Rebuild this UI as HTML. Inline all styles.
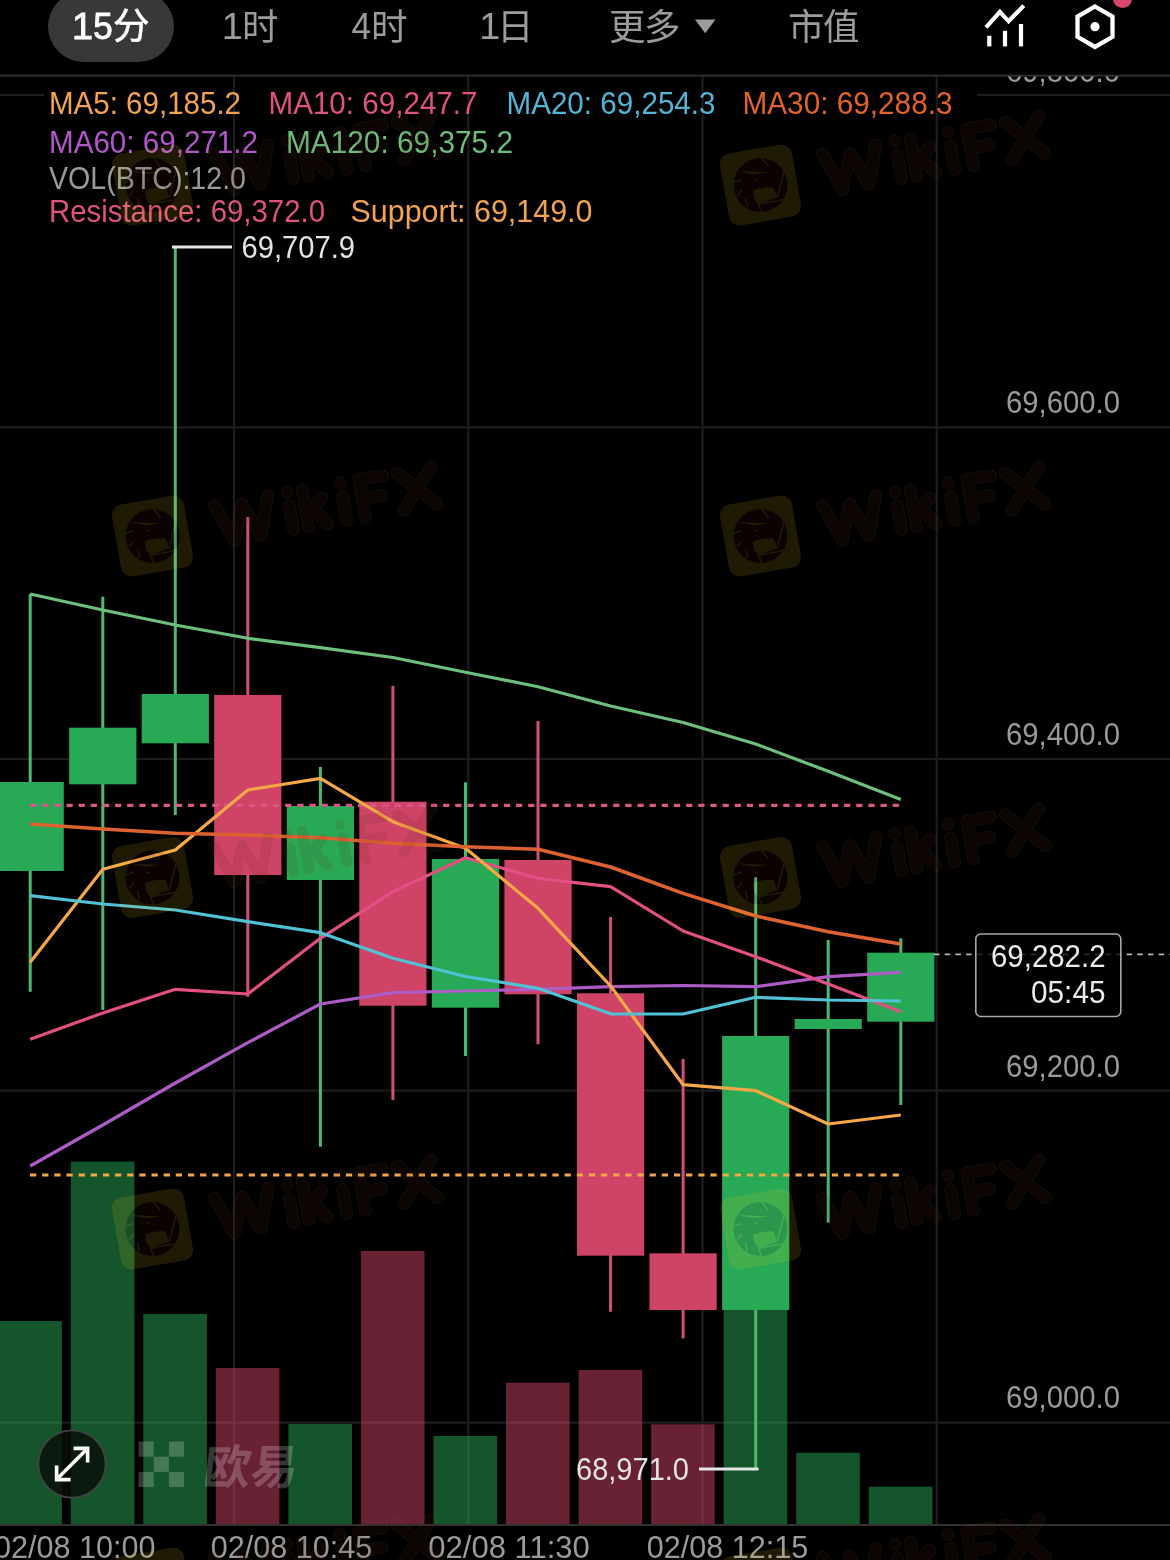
<!DOCTYPE html>
<html lang="zh"><head><meta charset="utf-8"><title>BTC 15m chart</title>
<style>
html,body{margin:0;padding:0;background:#000;}
body{width:1170px;height:1560px;overflow:hidden;position:relative;font-family:"Liberation Sans","Noto Sans CJK SC",sans-serif;}
svg{position:absolute;left:0;top:0;display:block;will-change:transform}
text{font-family:"Liberation Sans","Noto Sans CJK SC",sans-serif;}
</style></head><body>

<svg width="1170" height="1560" viewBox="0 0 1170 1560">
<defs>
<clipPath id="chartclip"><rect x="0" y="76" width="1170" height="1484"/></clipPath>
<g id="wm">
  <g transform="rotate(-10)">
    <rect x="-36.5" y="-36.5" width="73" height="73" rx="11" fill="#ffd422"/>
    <g transform="translate(61 0)" fill="none" stroke-linecap="round" stroke-linejoin="round">
      <path d="M5.5,-19.5 L19,18.5 L32.5,-16 L46,18.5 L59.5,-19.5 M79,18.5 L79,-6 M79,-20 L79,-19.9 M94.5,18.5 L94.5,-19.5 M112.5,-8 L96,6 M102,2 L113.5,18.5 M133,18.5 L133,-6 M133,-20 L133,-19.9 M152,18.5 L152,-19.5 L176,-19.5 M152,0 L172,0 M191,-19.5 L225,18.5 M225,-19.5 L191,18.5" stroke="#b88240" stroke-width="12.6"/>
      <path d="M5.5,-19.5 L19,18.5 L32.5,-16 L46,18.5 L59.5,-19.5 M79,18.5 L79,-6 M79,-20 L79,-19.9 M94.5,18.5 L94.5,-19.5 M112.5,-8 L96,6 M102,2 L113.5,18.5 M133,18.5 L133,-6 M133,-20 L133,-19.9 M152,18.5 L152,-19.5 L176,-19.5 M152,0 L172,0 M191,-19.5 L225,18.5 M225,-19.5 L191,18.5" stroke="#642a19" stroke-width="11"/>
    </g>
  </g>
  <circle cx="0" cy="0" r="27" fill="#531911"/>
  <path d="M-7 5.5 C-3 3.5 4 2 12 2.3 C14 4 15 7 16.5 12.4 L-2 19 C-6.5 15 -8 10 -7 5.5Z" fill="#ffd422"/>
  <g stroke="#ffd422" stroke-width="1.5" fill="none" stroke-linecap="round">
    <line x1="1.3" y1="-26.5" x2="7.5" y2="-19"/>
    <line x1="23.5" y1="-13.5" x2="16.8" y2="12"/>
    <line x1="23.5" y1="14.5" x2="-2" y2="19.2"/>
    <line x1="-2" y1="19.2" x2="1" y2="26.5"/>
    <line x1="-26" y1="-3" x2="-19.5" y2="-5"/>
    <line x1="-23" y1="10.5" x2="-19" y2="5.5"/>
    <line x1="-13" y1="21.5" x2="-15" y2="14"/>
  </g>
  <path d="M-23 -14.2 L9 -12.6 L-8 -10.8Z" fill="#ffd422"/>
  <path d="M-6.5 -6.2 L-2 -5.2 L-4.5 -4.2Z" fill="#ffe9a8"/>
</g>
</defs>
<rect width="1170" height="1560" fill="#000"/>

<g clip-path="url(#chartclip)">
<g stroke="#1d1d1d" stroke-width="2.2" fill="none">
<line x1="234" y1="76" x2="234" y2="1525"/>
<line x1="468.3" y1="76" x2="468.3" y2="1525"/>
<line x1="702.5" y1="76" x2="702.5" y2="1525"/>
<line x1="936.7" y1="76" x2="936.7" y2="1525"/>
<line x1="0" y1="427.3" x2="1170" y2="427.3"/>
<line x1="0" y1="759" x2="1170" y2="759"/>
<line x1="0" y1="1090.7" x2="1170" y2="1090.7"/>
<line x1="0" y1="1422.7" x2="1170" y2="1422.7"/>
<line x1="0" y1="95" x2="44" y2="95"/><line x1="977" y1="95" x2="1170" y2="95"/>
</g>
<rect x="0.0" y="1321.0" width="61.8" height="203.5" fill="#27a955" fill-opacity="0.5"/>
<rect x="70.8" y="1161.7" width="63.6" height="362.8" fill="#27a955" fill-opacity="0.5"/>
<rect x="143.3" y="1314.0" width="63.6" height="210.5" fill="#27a955" fill-opacity="0.5"/>
<rect x="215.8" y="1368.0" width="63.6" height="156.5" fill="#cf4367" fill-opacity="0.5"/>
<rect x="288.4" y="1424.0" width="63.6" height="100.5" fill="#27a955" fill-opacity="0.5"/>
<rect x="360.9" y="1251.0" width="63.6" height="273.5" fill="#cf4367" fill-opacity="0.5"/>
<rect x="433.5" y="1436.0" width="63.6" height="88.5" fill="#27a955" fill-opacity="0.5"/>
<rect x="506.0" y="1382.7" width="63.6" height="141.8" fill="#cf4367" fill-opacity="0.5"/>
<rect x="578.6" y="1370.0" width="63.6" height="154.5" fill="#cf4367" fill-opacity="0.5"/>
<rect x="651.1" y="1424.3" width="63.6" height="100.2" fill="#cf4367" fill-opacity="0.5"/>
<rect x="723.7" y="1300.0" width="63.6" height="224.5" fill="#27a955" fill-opacity="0.5"/>
<rect x="796.2" y="1452.7" width="63.6" height="71.8" fill="#27a955" fill-opacity="0.5"/>
<rect x="868.8" y="1486.7" width="63.6" height="37.8" fill="#27a955" fill-opacity="0.5"/>
<line x1="30.2" y1="594" x2="30.2" y2="991.7" stroke="#4db86e" stroke-width="3"/>
<rect x="0.0" y="782" width="63.8" height="89.0" fill="#27a955"/>
<line x1="102.8" y1="596.7" x2="102.8" y2="1010" stroke="#4db86e" stroke-width="3"/>
<rect x="69.2" y="727.7" width="67.2" height="56.6" fill="#27a955"/>
<line x1="175.3" y1="247" x2="175.3" y2="815" stroke="#4db86e" stroke-width="3"/>
<rect x="141.7" y="694" width="67.2" height="49.3" fill="#27a955"/>
<line x1="247.8" y1="517" x2="247.8" y2="996.7" stroke="#cc527b" stroke-width="3"/>
<rect x="214.2" y="695" width="67.2" height="180.0" fill="#cf4367"/>
<line x1="320.4" y1="767" x2="320.4" y2="1146.7" stroke="#4db86e" stroke-width="3"/>
<rect x="286.8" y="806" width="67.2" height="74.0" fill="#27a955"/>
<line x1="392.9" y1="685.7" x2="392.9" y2="1100" stroke="#cc527b" stroke-width="3"/>
<rect x="359.3" y="801.7" width="67.2" height="204.0" fill="#cf4367"/>
<line x1="465.5" y1="782.3" x2="465.5" y2="1056" stroke="#4db86e" stroke-width="3"/>
<rect x="431.9" y="859" width="67.2" height="148.7" fill="#27a955"/>
<line x1="538.0" y1="721" x2="538.0" y2="1044.3" stroke="#cc527b" stroke-width="3"/>
<rect x="504.4" y="860" width="67.2" height="134.3" fill="#cf4367"/>
<line x1="610.6" y1="917" x2="610.6" y2="1311.7" stroke="#cc527b" stroke-width="3"/>
<rect x="577.0" y="993.3" width="67.2" height="262.4" fill="#cf4367"/>
<line x1="683.1" y1="1059" x2="683.1" y2="1338.5" stroke="#cc527b" stroke-width="3"/>
<rect x="649.5" y="1253.3" width="67.2" height="56.7" fill="#cf4367"/>
<line x1="755.7" y1="877.3" x2="755.7" y2="1469" stroke="#4db86e" stroke-width="3"/>
<rect x="722.1" y="1036" width="67.2" height="274.0" fill="#27a955"/>
<line x1="828.2" y1="940" x2="828.2" y2="1222.5" stroke="#4db86e" stroke-width="3"/>
<rect x="794.6" y="1019" width="67.2" height="10.0" fill="#27a955"/>
<line x1="900.8" y1="938.3" x2="900.8" y2="1105" stroke="#4db86e" stroke-width="3"/>
<rect x="867.2" y="952.7" width="67.2" height="69.0" fill="#27a955"/>
<line x1="30" y1="805.3" x2="900.8" y2="805.3" stroke="#d9568a" stroke-width="3.2" stroke-dasharray="6.25 5.9"/>
<line x1="30" y1="1175" x2="900.8" y2="1175" stroke="#f3a64a" stroke-width="3.2" stroke-dasharray="6.25 5.9"/>
<polyline points="30.2,594 102.8,610 175.3,625 247.8,638.3 320.4,647.7 392.9,657.5 465.5,672.3 538.0,686.7 610.6,706 683.1,722.5 755.7,744 828.2,771.3 900.8,799.5" fill="none" stroke="#6cc07c" stroke-width="3.2" stroke-linejoin="round"/>
<polyline points="30.2,1166 102.8,1125 175.3,1083 247.8,1042.7 320.4,1004 392.9,992.7 465.5,991 538.0,989.3 610.6,986.7 683.1,985.5 755.7,986.7 828.2,976.7 900.8,972.3" fill="none" stroke="#ad5cc6" stroke-width="3.2" stroke-linejoin="round"/>
<polyline points="30.2,1039.3 102.8,1013 175.3,989.3 247.8,994 320.4,938.3 392.9,891.7 465.5,857.7 538.0,878.3 610.6,886.7 683.1,931 755.7,956.7 828.2,984 900.8,1011.7" fill="none" stroke="#e24f84" stroke-width="3.2" stroke-linejoin="round"/>
<polyline points="30.2,962.3 102.8,869.3 175.3,850 247.8,790 320.4,778.3 392.9,821.7 465.5,848.3 538.0,908.3 610.6,986 683.1,1084.7 755.7,1090.7 828.2,1124 900.8,1115" fill="none" stroke="#f6a846" stroke-width="3.2" stroke-linejoin="round"/>
<polyline points="30.2,895.7 102.8,904 175.3,910 247.8,921.7 320.4,932.7 392.9,958.3 465.5,976.5 538.0,988.3 610.6,1013.8 683.1,1014 755.7,997.3 828.2,1000 900.8,1001" fill="none" stroke="#50c2d6" stroke-width="3.2" stroke-linejoin="round"/>
<polyline points="30.2,824 102.8,829 175.3,833.3 247.8,835 320.4,837.7 392.9,843.3 465.5,846.7 538.0,849.3 610.6,867 683.1,893.3 755.7,916 828.2,931.7 900.8,944" fill="none" stroke="#de6230" stroke-width="3.5" stroke-linejoin="round"/>
<line x1="172" y1="247" x2="232" y2="247" stroke="#e6e6e6" stroke-width="3"/>
<line x1="699" y1="1469" x2="758.5" y2="1469" stroke="#e6e6e6" stroke-width="3"/>
<text x="241.5" y="258" font-size="31" fill="#e4e4e4" textLength="113.5" lengthAdjust="spacingAndGlyphs">69,707.9</text>
<text x="576" y="1479.5" font-size="31" fill="#e4e4e4" textLength="113" lengthAdjust="spacingAndGlyphs">68,971.0</text>
<line x1="934" y1="954.3" x2="1170" y2="954.3" stroke="#b8b8b8" stroke-width="1.8" stroke-dasharray="5.5 5.2"/>
<rect x="975.8" y="934" width="145" height="82.5" rx="5" fill="#000" stroke="#a8a8a8" stroke-width="1.6"/>
<line x1="976.6" y1="954.3" x2="1120" y2="954.3" stroke="#b8b8b8" stroke-opacity="0.22" stroke-width="1.8" stroke-dasharray="5.5 5.2" stroke-dashoffset="-0.6"/>
<text x="991" y="966.7" font-size="31" fill="#ececec" textLength="114.5" lengthAdjust="spacingAndGlyphs">69,282.2</text>
<text x="1031" y="1003" font-size="31" fill="#ececec" textLength="74.5" lengthAdjust="spacingAndGlyphs">05:45</text>
<text x="1006" y="82" font-size="31" fill="#9b9b9b" textLength="114" lengthAdjust="spacingAndGlyphs">69,800.0</text>
<text x="1006" y="413" font-size="31" fill="#9b9b9b" textLength="114" lengthAdjust="spacingAndGlyphs">69,600.0</text>
<text x="1006" y="744.5" font-size="31" fill="#9b9b9b" textLength="114" lengthAdjust="spacingAndGlyphs">69,400.0</text>
<text x="1006" y="1076.5" font-size="31" fill="#9b9b9b" textLength="114" lengthAdjust="spacingAndGlyphs">69,200.0</text>
<text x="1006" y="1408" font-size="31" fill="#9b9b9b" textLength="114" lengthAdjust="spacingAndGlyphs">69,000.0</text>
<text x="49" y="114.1" font-size="31.5" fill="#f2a354" textLength="192" lengthAdjust="spacingAndGlyphs">MA5: 69,185.2</text>
<text x="268.5" y="114.1" font-size="31.5" fill="#e0527f" textLength="209" lengthAdjust="spacingAndGlyphs">MA10: 69,247.7</text>
<text x="506.5" y="114.1" font-size="31.5" fill="#52b4d6" textLength="209" lengthAdjust="spacingAndGlyphs">MA20: 69,254.3</text>
<text x="742.5" y="114.1" font-size="31.5" fill="#e2622b" textLength="210" lengthAdjust="spacingAndGlyphs">MA30: 69,288.3</text>
<text x="49" y="152.7" font-size="31.5" fill="#b058c8" textLength="209" lengthAdjust="spacingAndGlyphs">MA60: 69,271.2</text>
<text x="286" y="152.7" font-size="31.5" fill="#6cc07c" textLength="227" lengthAdjust="spacingAndGlyphs">MA120: 69,375.2</text>
<text x="49" y="188.8" font-size="31.5" fill="#9a9a9a" textLength="197" lengthAdjust="spacingAndGlyphs">VOL(BTC):12.0</text>
<text x="49" y="222.3" font-size="31.5" fill="#e0527f" textLength="276" lengthAdjust="spacingAndGlyphs">Resistance: 69,372.0</text>
<text x="350.5" y="222.3" font-size="31.5" fill="#f2a354" textLength="242" lengthAdjust="spacingAndGlyphs">Support: 69,149.0</text>
<line x1="0" y1="1525" x2="1170" y2="1525" stroke="#303030" stroke-width="2"/>
<text x="-6" y="1558.3" font-size="31" fill="#9b9b9b" textLength="161.5" lengthAdjust="spacingAndGlyphs">02/08 10:00</text>
<text x="210.7" y="1558.3" font-size="31" fill="#9b9b9b" textLength="161.5" lengthAdjust="spacingAndGlyphs">02/08 10:45</text>
<text x="428.3" y="1558.3" font-size="31" fill="#9b9b9b" textLength="161.5" lengthAdjust="spacingAndGlyphs">02/08 11:30</text>
<text x="646.7" y="1558.3" font-size="31" fill="#9b9b9b" textLength="161.5" lengthAdjust="spacingAndGlyphs">02/08 12:15</text>
<rect x="138.5" y="1441.5" width="15.2" height="15.2" fill="rgba(255,255,255,0.21)"/>
<rect x="168.9" y="1441.5" width="15.2" height="15.2" fill="rgba(255,255,255,0.21)"/>
<rect x="153.7" y="1456.7" width="15.2" height="15.2" fill="rgba(255,255,255,0.21)"/>
<rect x="138.5" y="1471.9" width="15.2" height="15.2" fill="rgba(255,255,255,0.21)"/>
<rect x="168.9" y="1471.9" width="15.2" height="15.2" fill="rgba(255,255,255,0.21)"/>
<g transform="translate(203 1483.5) skewX(-7) scale(1.03 1)"><text x="-1" y="0" font-size="47" font-weight="bold" fill="rgba(255,255,255,0.21)" textLength="91.5" lengthAdjust="spacingAndGlyphs">欧易</text></g>
<circle cx="72" cy="1464" r="33.7" fill="rgba(10,14,10,0.82)" stroke="#454545" stroke-width="1.8"/>
<g stroke="#fff" stroke-width="3.6" fill="none" stroke-linecap="butt" stroke-linejoin="miter"><path d="M57.5 1478.6 L86.5 1449.4"/><path d="M73.6 1448.4 H87.6 V1462.4"/><path d="M56.6 1465.6 V1479.6 H70.6"/></g>
</g>
<rect x="0" y="0" width="1170" height="75" fill="#000"/>
<line x1="0" y1="75.7" x2="1170" y2="75.7" stroke="#333" stroke-width="1.8"/>
<rect x="48" y="-9" width="126" height="71" rx="35.5" fill="#383838"/>
<text x="72" y="38.9" font-size="37.8" fill="#fff" stroke="#fff" stroke-width="0.9">1</text>
<text x="93.2" y="38.9" font-size="37.8" fill="#fff" stroke="#fff" stroke-width="0.9" textLength="19.5" lengthAdjust="spacingAndGlyphs">5</text>
<text x="113" y="39" font-size="36.5" fill="#fff" stroke="#fff" stroke-width="0.6">分</text>
<text x="221.7" y="38.5" font-size="37.8" fill="#9c9c9c">1</text>
<text x="242" y="40" font-size="36.5" fill="#9c9c9c">时</text>
<text x="351.5" y="38.5" font-size="37.8" fill="#9c9c9c" textLength="19.5" lengthAdjust="spacingAndGlyphs">4</text>
<text x="371" y="40" font-size="36.5" fill="#9c9c9c">时</text>
<text x="479.2" y="38.5" font-size="37.8" fill="#9c9c9c">1</text>
<text x="497" y="40" font-size="36.5" fill="#9c9c9c">日</text>
<text x="609" y="40" font-size="36.5" fill="#9c9c9c" textLength="71.5" lengthAdjust="spacing">更多</text>
<path d="M695 19.5 H715.5 L705.2 33.2 Z" fill="#9c9c9c"/>
<text x="788" y="40" font-size="36.5" fill="#9c9c9c" textLength="71.5" lengthAdjust="spacing">市值</text>
<g stroke="#fff" fill="none" stroke-width="4.2"><polyline points="986,27.3 999.9,11.8 1008.6,21.3 1023.8,5.6" stroke-linejoin="miter"/><line x1="989.3" y1="35.8" x2="989.3" y2="46.4"/><line x1="1005" y1="30.8" x2="1005" y2="46.4"/><line x1="1021" y1="24" x2="1021" y2="46.4"/></g>
<polygon points="1095.0,6.5 1112.5,16.6 1112.5,36.8 1095.0,46.9 1077.5,36.8 1077.5,16.6" fill="none" stroke="#fff" stroke-width="4.3" stroke-linejoin="miter"/>
<circle cx="1095" cy="26.7" r="4.6" fill="#fff"/>
<circle cx="1122.5" cy="-1.4" r="9.5" fill="#d8456f"/>
<use href="#wm" x="152.5" y="185" opacity="0.12"/>
<use href="#wm" x="152.5" y="536" opacity="0.12"/>
<use href="#wm" x="152.5" y="877.5" opacity="0.12"/>
<use href="#wm" x="152.5" y="1229" opacity="0.12"/>
<use href="#wm" x="152.5" y="1588" opacity="0.12"/>
<use href="#wm" x="760.5" y="185" opacity="0.12"/>
<use href="#wm" x="760.5" y="536" opacity="0.12"/>
<use href="#wm" x="760.5" y="877.5" opacity="0.12"/>
<use href="#wm" x="760.5" y="1229" opacity="0.12"/>
<use href="#wm" x="760.5" y="1588" opacity="0.12"/>
</svg>
</body></html>
